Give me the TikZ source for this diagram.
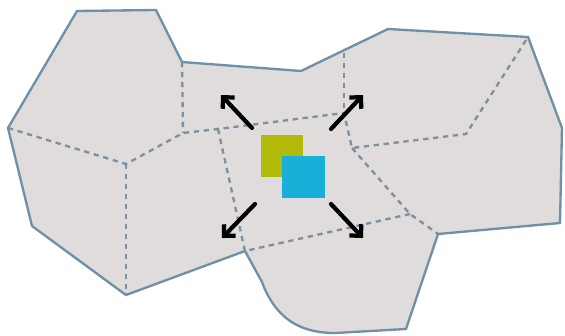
\documentclass[tikz,border=0pt]{standalone}
\usepackage{xcolor}
\definecolor{Cell Gray}{HTML}{E0DCDB}
\definecolor{Steel Edge}{HTML}{6F91A8}
\definecolor{Dash Blue}{HTML}{7B90A2}
\definecolor{Olive Green}{HTML}{B2BA0A}
\definecolor{Sky Cyan}{HTML}{18AFD8}
\colorlet{cFill}{Cell Gray}
\colorlet{cEdge}{Steel Edge}
\colorlet{cDash}{Dash Blue}
\usetikzlibrary{arrows.meta}
\tikzset{
	line join = round,
	border/.style={
		draw=cEdge,
		fill=cFill,
		line width=2pt
	},
	seam/.style={
		draw=cDash,
		line width=2pt,
		dash pattern=on 4.5pt off 4pt
	},
	spread/.style={
		-{Straight Barb[length=7pt, width=14pt, line width=3.6pt]},
		line width=3.6pt,
		line cap=round
	}
}

\begin{document}
\begin{tikzpicture}[x=0.03cm, y=-0.03cm]
		\useasboundingbox (0,0) rectangle (565,335);

		% outline
		\coordinate (p0) at (77,11);
		\coordinate (p1) at (156,10);
		\coordinate (p2) at (182,62);
		\coordinate (p3) at (301,71);
		\coordinate (p4) at (388,29);
		\coordinate (p5) at (528,37);
		\coordinate (p6) at (562,128);
		\coordinate (p7) at (560,223);
		\coordinate (p8) at (438,234);
		\coordinate (p9) at (406,329);
		\coordinate (p10) at (335,333);
		\coordinate (p11) at (262,282);
		\coordinate (p12) at (245,251);
		\coordinate (p13) at (126,295);
		\coordinate (p14) at (32,226);
		\coordinate (p15) at (8,128);

		% inner corners
		\coordinate (q0) at (126,164);
		\coordinate (q1) at (183,133);
		\coordinate (q2) at (218,129);
		\coordinate (q3) at (344,113);
		\coordinate (q4) at (352,148);
		\coordinate (q5) at (466,134);
		\coordinate (q6) at (410,214);
		\coordinate (q8) at (344,53);

		\draw[border] (p0) -- (p1) -- (p2) -- (p3) -- (p4) -- (p5) -- (p6) -- (p7)
			-- (p8) -- (p9) -- (p10) .. controls (295,333) and (274,314) .. (p11)
			-- (p12) -- (p13) -- (p14) -- (p15) -- cycle;

		\draw[seam] (p15) -- (q0) -- (q1) -- (q2) -- (q3) -- (q4) -- (q5) -- (p5);
		\draw[seam] (q0) -- (p13);
		\draw[seam] (p2) -- (q1);
		\draw[seam] (q2) -- (p12) -- (q6);
		\draw[seam] (q8) -- (q3);
		\draw[seam] (q4) -- (q6) -- (p8);

		\fill[Olive Green] (261,135) rectangle (303,177);
		\fill[Sky Cyan] (282,156) rectangle (325,198);

		\coordinate (a0) at (252,128);
		\coordinate (a1) at (221,95);
		\coordinate (b0) at (331,129);
		\coordinate (b1) at (363,95);
		\coordinate (c0) at (255,204);
		\coordinate (c1) at (222,238);
		\coordinate (d0) at (331,204);
		\coordinate (d1) at (363,238);

		\draw[spread] (a0) -- (a1);
		\draw[spread] (b0) -- (b1);
		\draw[spread] (c0) -- (c1);
		\draw[spread] (d0) -- (d1);
	\end{tikzpicture}
\end{document}
